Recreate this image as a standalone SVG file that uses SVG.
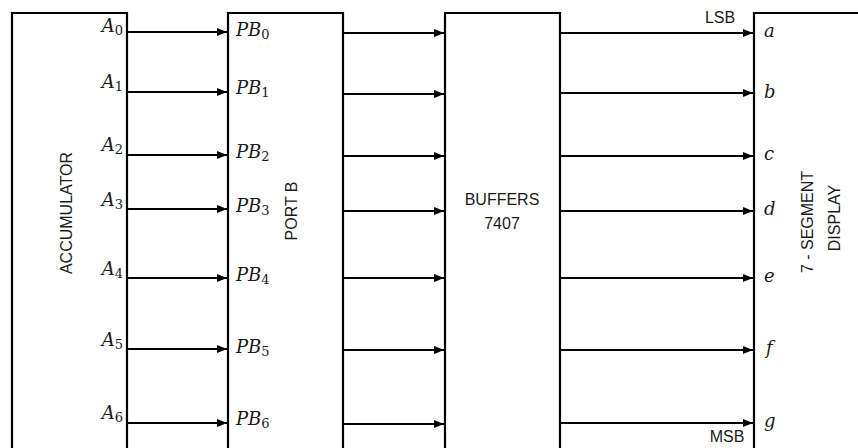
<svg xmlns="http://www.w3.org/2000/svg" width="858" height="448" viewBox="0 0 858 448">
<style>
.box{fill:none;stroke:#000;stroke-width:2.2}
.con line{stroke:#000;stroke-width:2}
.lbl{font-family:"Liberation Sans",Arial,sans-serif;font-size:16px;fill:#1a1a1a}
.m{font-family:"DejaVu Serif","Liberation Serif",serif;font-style:italic;font-size:18px;fill:#1a1a1a}
.s{font-style:normal;font-size:13px}
</style>
<defs>
<marker id="ah" viewBox="0 0 10 8" refX="10" refY="4" markerWidth="10" markerHeight="8" markerUnits="userSpaceOnUse" orient="auto">
<path d="M0,0 L10,4 L0,8 Z" fill="#000"/>
</marker>
</defs>
<rect width="858" height="448" fill="#fff"/>
<g id="accumulator">
<path class="box" d="M12,450 V13 H127 V450"/>
<text class="lbl" transform="translate(72,213) rotate(-90)" text-anchor="middle">ACCUMULATOR</text>
<text class="m" x="123" y="32" text-anchor="end">A<tspan class="s" dy="3">0</tspan></text>
<text class="m" x="123" y="88" text-anchor="end">A<tspan class="s" dy="3">1</tspan></text>
<text class="m" x="123" y="151" text-anchor="end">A<tspan class="s" dy="3">2</tspan></text>
<text class="m" x="123" y="206" text-anchor="end">A<tspan class="s" dy="3">3</tspan></text>
<text class="m" x="123" y="275" text-anchor="end">A<tspan class="s" dy="3">4</tspan></text>
<text class="m" x="123" y="346" text-anchor="end">A<tspan class="s" dy="3">5</tspan></text>
<text class="m" x="123" y="419" text-anchor="end">A<tspan class="s" dy="3">6</tspan></text>
</g>
<g id="portb">
<path class="box" d="M228,450 V13 H343 V450"/>
<text class="lbl" transform="translate(297,211) rotate(-90)" text-anchor="middle">PORT B</text>
<text class="m" x="236" y="36">PB<tspan class="s" dy="3">0</tspan></text>
<text class="m" x="236" y="94">PB<tspan class="s" dy="3">1</tspan></text>
<text class="m" x="236" y="158">PB<tspan class="s" dy="3">2</tspan></text>
<text class="m" x="236" y="212">PB<tspan class="s" dy="3">3</tspan></text>
<text class="m" x="236" y="281">PB<tspan class="s" dy="3">4</tspan></text>
<text class="m" x="236" y="353">PB<tspan class="s" dy="3">5</tspan></text>
<text class="m" x="236" y="425">PB<tspan class="s" dy="3">6</tspan></text>
</g>
<g id="buffers">
<path class="box" d="M445,450 V13 H560 V450"/>
<text class="lbl" x="502" y="205" text-anchor="middle">BUFFERS</text>
<text class="lbl" x="502" y="229" text-anchor="middle">7407</text>
</g>
<g id="display">
<path class="box" d="M754,450 V13 H870"/>
<text class="lbl" transform="translate(813,222) rotate(-90)" text-anchor="middle">7 - SEGMENT</text>
<text class="lbl" transform="translate(840,218) rotate(-90)" text-anchor="middle">DISPLAY</text>
<text class="m" x="764" y="37">a</text>
<text class="m" x="764" y="98">b</text>
<text class="m" x="764" y="160">c</text>
<text class="m" x="764" y="215">d</text>
<text class="m" x="764" y="282">e</text>
<text class="m" x="766" y="354">f</text>
<text class="m" x="764" y="427">g</text>
<text class="lbl" x="720" y="23" text-anchor="middle">LSB</text>
<text class="lbl" x="727" y="442" text-anchor="middle">MSB</text>
</g>
<g id="connectors" class="con">
<line x1="128" y1="32" x2="227" y2="32" marker-end="url(#ah)"/>
<line x1="128" y1="92" x2="227" y2="92" marker-end="url(#ah)"/>
<line x1="128" y1="155" x2="227" y2="155" marker-end="url(#ah)"/>
<line x1="128" y1="209" x2="227" y2="209" marker-end="url(#ah)"/>
<line x1="128" y1="278" x2="227" y2="278" marker-end="url(#ah)"/>
<line x1="128" y1="349" x2="227" y2="349" marker-end="url(#ah)"/>
<line x1="128" y1="423" x2="227" y2="423" marker-end="url(#ah)"/>
<line x1="344" y1="33" x2="444" y2="33" marker-end="url(#ah)"/>
<line x1="344" y1="94" x2="444" y2="94" marker-end="url(#ah)"/>
<line x1="344" y1="156" x2="444" y2="156" marker-end="url(#ah)"/>
<line x1="344" y1="211" x2="444" y2="211" marker-end="url(#ah)"/>
<line x1="344" y1="278" x2="444" y2="278" marker-end="url(#ah)"/>
<line x1="344" y1="350" x2="444" y2="350" marker-end="url(#ah)"/>
<line x1="344" y1="424" x2="444" y2="424" marker-end="url(#ah)"/>
<line x1="561" y1="33" x2="753" y2="33" marker-end="url(#ah)"/>
<line x1="561" y1="93" x2="753" y2="93" marker-end="url(#ah)"/>
<line x1="561" y1="156" x2="753" y2="156" marker-end="url(#ah)"/>
<line x1="561" y1="211" x2="753" y2="211" marker-end="url(#ah)"/>
<line x1="561" y1="278" x2="753" y2="278" marker-end="url(#ah)"/>
<line x1="561" y1="350" x2="753" y2="350" marker-end="url(#ah)"/>
<line x1="561" y1="423" x2="753" y2="423" marker-end="url(#ah)"/>
</g>
</svg>
